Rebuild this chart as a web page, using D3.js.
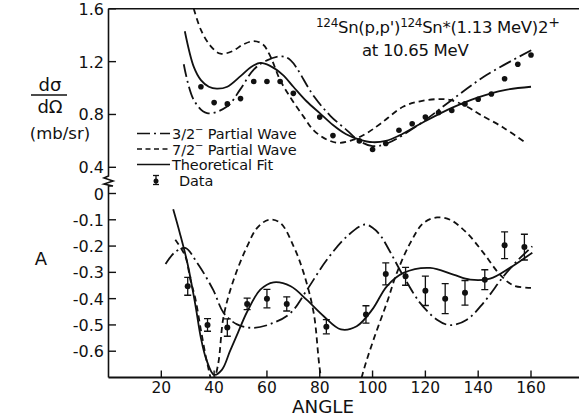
<!DOCTYPE html>
<html>
<head>
<meta charset="utf-8">
<script src="https://cdn.jsdelivr.net/npm/d3@7"></script>
<style>
  body { margin: 0; background: #fff; }
  text { font-family: "DejaVu Sans", sans-serif; fill: #111; }
</style>
</head>
<body>
<script>
// ---- upper panel: cross section (mb/sr) ----
var xsAngles = [35, 40, 45, 50, 55, 60, 65, 70, 80, 85, 95, 100, 105, 110, 115, 120, 125, 130, 135, 140, 145, 150, 155, 160];
var xsData   = [1.01, 0.89, 0.88, 0.92, 1.05, 1.05, 1.05, 0.96, 0.78, 0.64, 0.60, 0.535, 0.58, 0.68, 0.73, 0.78, 0.815, 0.83, 0.88, 0.915, 0.955, 1.07, 1.18, 1.25];

var xsFitAng   = [28.9, 32.3, 35, 38, 41, 45, 50, 54, 57.5, 61, 66, 70, 75, 80, 85, 90, 95, 100, 105, 110, 120, 130, 140, 150, 160];
var xsFit      = [1.43, 1.16, 1.06, 1.01, 0.995, 1.01, 1.09, 1.16, 1.19, 1.17, 1.10, 1.01, 0.90, 0.81, 0.72, 0.65, 0.61, 0.59, 0.60, 0.64, 0.75, 0.85, 0.93, 0.985, 1.01];

var xs32Ang    = [28.5, 32.3, 37.3, 44.9, 49.9, 55, 60, 65.7, 69, 77.7, 84, 90.3, 95, 100, 105.4, 118, 130, 143.3, 160.5];
var xs32       = [1.18, 0.91, 0.81, 0.86, 0.99, 1.14, 1.21, 1.24, 1.21, 0.94, 0.79, 0.68, 0.60, 0.56, 0.58, 0.73, 0.91, 1.10, 1.29];

var xs72Ang    = [32.3, 35, 38.6, 42.4, 47, 51, 55, 58.5, 61.3, 65, 69.5, 74, 77.7, 82.7, 87.5, 92.8, 97.9, 103, 111.7, 118, 124.4, 129.4, 135.7, 140.7, 149.6, 158.4];
var xs72       = [1.6, 1.44, 1.32, 1.26, 1.28, 1.33, 1.355, 1.33, 1.24, 1.06, 0.91, 0.78, 0.68, 0.61, 0.585, 0.61, 0.66, 0.73, 0.86, 0.90, 0.916, 0.91, 0.86, 0.80, 0.70, 0.58];

// ---- lower panel: analyzing power A ----
var aAngles = [30, 37.5, 45, 52.5, 60, 67.5, 82.5, 97.5, 105, 112.5, 120, 127.5, 135, 142.5, 150, 157.5];
var aData   = [-0.353, -0.50, -0.51, -0.42, -0.40, -0.42, -0.507, -0.46, -0.306, -0.315, -0.37, -0.40, -0.378, -0.328, -0.197, -0.204];
var aErr    = [0.034, 0.024, 0.033, 0.022, 0.035, 0.027, 0.027, 0.033, 0.042, 0.034, 0.056, 0.057, 0.047, 0.038, 0.051, 0.049];

var aFitAng = [24.5, 27, 30, 33, 35, 37, 40, 43, 46, 49, 52.5, 57.5, 62.5, 69, 75, 81.5, 88, 94, 100, 105.4, 111.7, 121.8, 130.6, 137, 144.5, 152, 160.5];
var aFit    = [-0.06, -0.15, -0.27, -0.43, -0.55, -0.63, -0.69, -0.67, -0.60, -0.53, -0.45, -0.366, -0.338, -0.353, -0.404, -0.467, -0.517, -0.505, -0.44, -0.353, -0.302, -0.283, -0.309, -0.328, -0.324, -0.283, -0.225];

var a32Ang  = [21.6, 25, 29, 33.6, 39.6, 43.6, 48.7, 55, 62.5, 69, 75.2, 82.7, 90.3, 97, 100, 103, 106, 111.7, 118, 124.4, 129.4, 135.7, 142, 149.6, 154.6, 160.5];
var a32     = [-0.268, -0.225, -0.207, -0.264, -0.366, -0.454, -0.498, -0.511, -0.492, -0.454, -0.366, -0.252, -0.163, -0.118, -0.13, -0.16, -0.21, -0.315, -0.416, -0.48, -0.501, -0.48, -0.416, -0.315, -0.258, -0.201];

var a72Ang  = [25.3, 29.1, 31, 32.9, 35, 37.5, 39.5, 41.5, 43.6, 47.4, 52.5, 56.3, 60.7, 65.1, 70.1, 73.9, 77.7, 80.2, 84, 88, 92, 96, 100.4, 105.4, 109.2, 114.3, 119.3, 124.4, 129.4, 135.7, 142, 148.3, 153.4, 160];
var a72     = [-0.176, -0.239, -0.328, -0.40, -0.52, -0.65, -0.72, -0.65, -0.467, -0.328, -0.201, -0.131, -0.10, -0.112, -0.201, -0.302, -0.454, -0.682, -0.88, -0.95, -0.88, -0.695, -0.555, -0.416, -0.302, -0.188, -0.112, -0.091, -0.10, -0.15, -0.226, -0.309, -0.35, -0.359];

var xTicks  = [20, 40, 60, 80, 100, 120, 140, 160];
var xsTicks = [0.4, 0.8, 1.2, 1.6];
var aTicks  = [0, -0.1, -0.2, -0.3, -0.4, -0.5, -0.6];

var legendItems = [
  {label: "3/2", sup: "\u2212", rest: " Partial Wave", dash: "13,4,2,4"},
  {label: "7/2", sup: "\u2212", rest: " Partial Wave", dash: "6,4"},
  {label: "Theoretical Fit", sup: "", rest: "", dash: null},
  {label: "Data", sup: "", rest: "", dash: "data"}
];

var W = 579, H = 417;
var svg = d3.select("body").append("svg").attr("width", W).attr("height", H);

var x = d3.scaleLinear().domain([0, 160]).range([108.5, 531]);
var yXs = d3.scaleLinear().domain([0.4, 1.6]).range([167.3, 8.8]);
var yA = d3.scaleLinear().domain([-0.7, 0]).range([377.5, 193.5]);

var defs = svg.append("defs");
defs.append("clipPath").attr("id", "clipTop").append("rect")
  .attr("x", 108).attr("y", 9).attr("width", W - 108).attr("height", 170);
defs.append("clipPath").attr("id", "clipBot").append("rect")
  .attr("x", 108).attr("y", 186).attr("width", W - 108).attr("height", 377.5 - 186);

// frame: top line, left axis, bottom axis
svg.append("line").attr("x1", 108.5).attr("x2", W).attr("y1", 8.8).attr("y2", 8.8)
  .attr("stroke", "#111").attr("stroke-width", 1.6);
svg.append("line").attr("x1", 108.5).attr("x2", W).attr("y1", 377.5).attr("y2", 377.5)
  .attr("stroke", "#111").attr("stroke-width", 1.8);
svg.append("path")
  .attr("d", "M108.5,8.8 V176 L104,178 L113,181 L104,184 L113,186 H108.5 V377.5")
  .attr("fill", "none").attr("stroke", "#111").attr("stroke-width", 1.6);

// y ticks upper
xsTicks.forEach(function(t) {
  svg.append("line").attr("x1", 108.5).attr("x2", 116).attr("y1", yXs(t)).attr("y2", yXs(t))
    .attr("stroke", "#111").attr("stroke-width", 1.4);
  svg.append("text").attr("x", 104).attr("y", yXs(t) + 6).attr("text-anchor", "end")
    .attr("font-size", 16).text(d3.format(".1f")(t));
});
// y ticks lower
aTicks.forEach(function(t) {
  svg.append("line").attr("x1", 108.5).attr("x2", 116).attr("y1", yA(t)).attr("y2", yA(t))
    .attr("stroke", "#111").attr("stroke-width", 1.4);
  svg.append("text").attr("x", 104).attr("y", yA(t) + 6).attr("text-anchor", "end")
    .attr("font-size", 16)
    .text(t === 0 ? "0" : d3.format(".1f")(t).replace("\u2212", "-"));
});
// x ticks
xTicks.forEach(function(t) {
  svg.append("line").attr("x1", x(t)).attr("x2", x(t)).attr("y1", 377.5).attr("y2", 370.5)
    .attr("stroke", "#111").attr("stroke-width", 1.4);
  svg.append("text").attr("x", x(t)).attr("y", 392.5).attr("text-anchor", "middle")
    .attr("font-size", 15.5).text(t);
});

// axis titles
svg.append("text").attr("x", 323).attr("y", 412.5).attr("text-anchor", "middle")
  .attr("font-size", 17).attr("textLength", 62).attr("lengthAdjust", "spacingAndGlyphs").text("ANGLE");
svg.append("text").attr("x", 41).attr("y", 265).attr("text-anchor", "middle")
  .attr("font-size", 18).text("A");
svg.append("text").attr("x", 50).attr("y", 91).attr("text-anchor", "middle")
  .attr("font-size", 18).text("d\u03c3");
svg.append("line").attr("x1", 31).attr("x2", 67).attr("y1", 95).attr("y2", 95)
  .attr("stroke", "#111").attr("stroke-width", 1.5);
svg.append("text").attr("x", 50).attr("y", 113).attr("text-anchor", "middle")
  .attr("font-size", 18).text("d\u03a9");
svg.append("text").attr("x", 60).attr("y", 139).attr("text-anchor", "middle")
  .attr("font-size", 16.5).text("(mb/sr)");

// reaction title
var t1 = svg.append("text").attr("x", 316).attr("y", 33).attr("font-size", 16.5).attr("letter-spacing", -0.3);
t1.append("tspan").attr("font-size", 12).attr("dy", -6).text("124");
t1.append("tspan").attr("dy", 6).text("Sn(p,p')");
t1.append("tspan").attr("font-size", 12).attr("dy", -6).text("124");
t1.append("tspan").attr("dy", 6).text("Sn*(1.13 MeV)2");
t1.append("tspan").attr("dy", -6).attr("font-size", 14).text("+");
svg.append("text").attr("x", 362).attr("y", 56).attr("font-size", 16.5).attr("letter-spacing", -0.3)
  .text("at  10.65 MeV");

// curves
var line = function(sc) {
  return d3.line().x(function(d) { return x(d[0]); }).y(function(d) { return sc(d[1]); })
    .curve(d3.curveCatmullRom.alpha(0.5));
};
var gTop = svg.append("g").attr("clip-path", "url(#clipTop)");
var gBot = svg.append("g").attr("clip-path", "url(#clipBot)");

function drawCurve(g, sc, ang, val, dash) {
  g.append("path").datum(d3.zip(ang, val))
    .attr("d", line(sc)).attr("fill", "none").attr("stroke", "#111")
    .attr("stroke-width", 1.8).attr("stroke-dasharray", dash);
}
drawCurve(gTop, yXs, xsFitAng, xsFit, null);
drawCurve(gTop, yXs, xs32Ang, xs32, "13,4,2,4");
drawCurve(gTop, yXs, xs72Ang, xs72, "6,4");
drawCurve(gBot, yA, aFitAng, aFit, null);
drawCurve(gBot, yA, a32Ang, a32, "13,4,2,4");
drawCurve(gBot, yA, a72Ang, a72, "6,4");

// data points upper
gTop.selectAll("circle.xs").data(d3.zip(xsAngles, xsData)).enter().append("circle")
  .attr("cx", function(d) { return x(d[0]); }).attr("cy", function(d) { return yXs(d[1]); })
  .attr("r", 2.8).attr("fill", "#111");

// data points lower with error bars
var pts = d3.zip(aAngles, aData, aErr);
var eb = gBot.selectAll("g.eb").data(pts).enter().append("g");
eb.append("line").attr("x1", function(d) { return x(d[0]); }).attr("x2", function(d) { return x(d[0]); })
  .attr("y1", function(d) { return yA(d[1] + d[2]); }).attr("y2", function(d) { return yA(d[1] - d[2]); })
  .attr("stroke", "#111").attr("stroke-width", 1.3);
[1, -1].forEach(function(s) {
  eb.append("line").attr("x1", function(d) { return x(d[0]) - 3.5; }).attr("x2", function(d) { return x(d[0]) + 3.5; })
    .attr("y1", function(d) { return yA(d[1] + s * d[2]); }).attr("y2", function(d) { return yA(d[1] + s * d[2]); })
    .attr("stroke", "#111").attr("stroke-width", 1.3);
});
eb.append("circle").attr("cx", function(d) { return x(d[0]); }).attr("cy", function(d) { return yA(d[1]); })
  .attr("r", 3).attr("fill", "#111");

// legend
var lg = svg.append("g");
legendItems.forEach(function(it, i) {
  var yy = 133.5 + i * 15.5;
  if (it.dash === "data") {
    lg.append("line").attr("x1", 156).attr("x2", 156).attr("y1", yy - 4.5).attr("y2", yy + 4.5).attr("stroke", "#111").attr("stroke-width", 1.3);
    lg.append("line").attr("x1", 153).attr("x2", 159).attr("y1", yy - 4.5).attr("y2", yy - 4.5).attr("stroke", "#111").attr("stroke-width", 1.3);
    lg.append("line").attr("x1", 153).attr("x2", 159).attr("y1", yy + 4.5).attr("y2", yy + 4.5).attr("stroke", "#111").attr("stroke-width", 1.3);
    lg.append("circle").attr("cx", 156).attr("cy", yy + 1).attr("r", 2.5).attr("fill", "#111");
  } else {
    lg.append("line").attr("x1", 137).attr("x2", 170).attr("y1", yy).attr("y2", yy)
      .attr("stroke", "#111").attr("stroke-width", 1.4).attr("stroke-dasharray", it.dash === "6,4" ? "5,3.5" : it.dash);
  }
  var tx = lg.append("text").attr("x", it.dash === "data" ? 179 : 172).attr("y", yy + 5.5)
    .attr("font-size", 14.5).attr("letter-spacing", -0.1);
  tx.append("tspan").text(it.label);
  if (it.sup) {
    tx.append("tspan").attr("dy", -6).attr("font-size", 10).text(it.sup);
    tx.append("tspan").attr("dy", 6).text(it.rest);
  }
});
</script>
</body>
</html>
